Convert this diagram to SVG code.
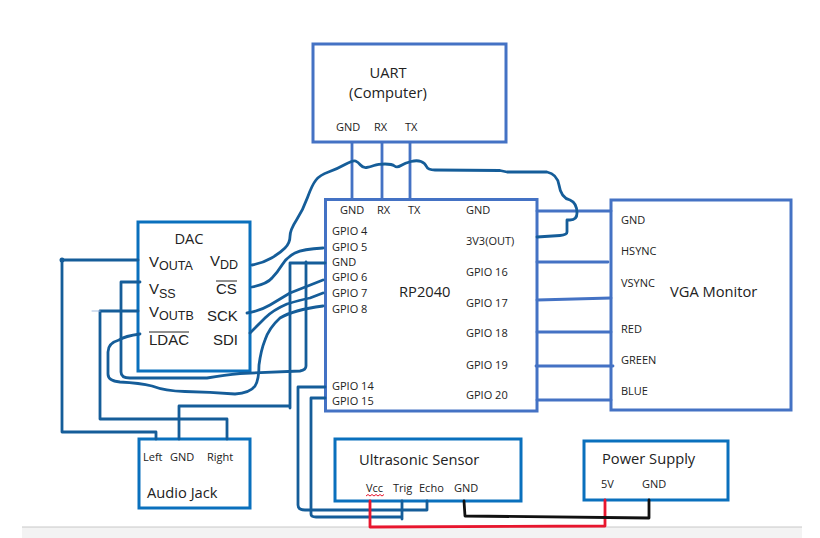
<svg xmlns="http://www.w3.org/2000/svg" width="820" height="538" viewBox="0 0 820 538">
<style>
text{font-family:"Open Sans","Noto Sans","Liberation Sans",sans-serif;font-size:11px;fill:#222}
.t{font-size:14.7px}
.d{font-family:"Liberation Sans",Arial,sans-serif;font-size:15px;fill:#222}
.d tspan{font-size:12.5px}
.b{fill:#fff;stroke-width:3}
.p{stroke:#4472c4}
.q{stroke:#0a70bd}
#connectors path{fill:none;stroke-linejoin:round;stroke-linecap:round}
.w{stroke:#155d99;stroke-width:2.8}
.u{stroke:#4472c4;stroke-width:2.8}
.r{stroke:#e8162e;stroke-width:2.8}
.k{stroke:#111;stroke-width:2.8}
</style>
<rect x="22" y="527" width="780" height="11" fill="#f3f3f3"/>
<line x1="22" y1="527" x2="802" y2="527" stroke="#c8c8c8" stroke-width="1"/>
<g id="uart"><rect class="b p" x="313" y="44" width="193" height="98"/>
<text class="t" x="388" y="78" text-anchor="middle">UART</text><text class="t" x="388" y="98" text-anchor="middle">(Computer)</text>
<text x="336" y="131">GND</text><text x="374" y="131">RX</text><text x="405" y="131">TX</text></g>
<g id="rp2040"><rect class="b p" x="325.500" y="199.500" width="211.500" height="211.500"/>
<text x="340" y="214">GND</text><text x="377" y="214">RX</text><text x="408" y="214">TX</text><text x="466" y="214">GND</text>
<text x="332" y="235">GPIO 4</text><text x="332" y="251">GPIO 5</text><text x="332" y="266">GND</text><text x="332" y="281">GPIO 6</text><text x="332" y="297">GPIO 7</text><text x="332" y="313">GPIO 8</text><text x="332" y="390">GPIO 14</text><text x="332" y="405">GPIO 15</text>
<text x="466" y="245">3V3(OUT)</text><text x="466" y="276">GPIO 16</text><text x="466" y="307">GPIO 17</text><text x="466" y="337">GPIO 18</text><text x="466" y="369">GPIO 19</text><text x="466" y="399">GPIO 20</text>
<text class="t" x="399" y="297">RP2040</text></g>
<g id="vga"><rect class="b p" x="611" y="200" width="180" height="210"/>
<text x="621" y="224">GND</text><text x="621" y="255">HSYNC</text><text x="621" y="287">VSYNC</text><text x="621" y="333">RED</text><text x="621" y="364">GREEN</text><text x="621" y="395">BLUE</text>
<text class="t" x="670" y="297">VGA Monitor</text></g>
<g id="dac"><rect class="b q" x="138" y="222" width="112" height="149"/>
<text class="t" x="189" y="244" text-anchor="middle">DAC</text>
<text class="d" x="149" y="267">V<tspan dy="3">OUTA</tspan></text>
<text class="d" x="210" y="266">V<tspan dy="3">DD</tspan></text>
<text class="d" x="149" y="294">V<tspan dy="4">SS</tspan></text>
<text class="d" x="216" y="294">CS</text><line x1="216" y1="281" x2="237" y2="281" stroke="#222" stroke-width="1"/>
<text class="d" x="149" y="317">V<tspan dy="3">OUTB</tspan></text>
<text class="d" x="207" y="321">SCK</text>
<text class="d" x="149" y="345">LDAC</text><line x1="149" y1="332" x2="189" y2="332" stroke="#222" stroke-width="1"/>
<text class="d" x="213" y="345">SDI</text></g>
<g id="audio-jack"><rect class="b q" x="139" y="439" width="111" height="69"/>
<text x="143" y="461">Left</text><text x="170" y="461">GND</text><text x="207" y="461">Right</text>
<text class="t" x="147" y="498">Audio Jack</text></g>
<g id="ultrasonic"><rect class="b q" x="335" y="439" width="186" height="62"/>
<text class="t" x="359" y="465">Ultrasonic Sensor</text>
<text x="366" y="492">Vcc</text><text x="393" y="492">Trig</text><text x="419" y="492">Echo</text><text x="454" y="492">GND</text>
<path d="M366 496l2-1.500 2 1.500 2-1.500 2 1.500 2-1.500 2 1.500 2-1.500 2 1.500 2-1.500" fill="none" stroke="#e8162e" stroke-width="1"/></g>
<g id="power-supply"><rect class="b q" x="584" y="441" width="144" height="59"/>
<text class="t" x="602" y="464">Power Supply</text><text x="601" y="488">5V</text><text x="642" y="488">GND</text></g>
<g id="connectors">
<path class="u" d="M352 143V199M382 143V199M410 143V199M537 211H611M537 262H608M537 300L611 298M537 332H611M536 366H613M537 400H611"/>
<path class="w" d="M138 260H62V432H156V439"/>
<circle cx="62" cy="260" r="2.500" fill="#155d99"/>
<path class="w" d="M100 311H138M100 311V419H227V439"/>
<path d="M92 311H100" stroke="#a9bfe0" stroke-width="1"/>
<path class="w" d="M140 282H121V372Q121 378 130 378H207Q225 375 240 373.500L300 371Q306 370 306 366V262"/>
<path class="w" d="M325 263H290V408M289 406H179V439"/>
<path class="w" d="M140 334Q125 336 119 340Q108 343 108 352V374Q108 381 120 382Q140 383 152 386Q165 391 185 391.500Q210 392 235 394Q250 393 255 386Q259 380 259 365Q261 350 265 340Q269 328 280 318Q293 310 323 306"/>
<path class="w" d="M250 333Q258 325 265 318Q273 310 287 304Q300 300 310 298L323 293"/>
<path class="w" d="M247 313Q260 311 270 305Q280 299 290 293L323 280"/>
<path class="w" d="M252 287Q267 284 272 278Q277 273 282 265Q287 257 295 253Q303 249 323 248"/>
<path class="w" d="M252 265Q263 263 271.500 258Q280 253 285 248Q290 243 290 236.500Q290 230 296.500 220Q303 210 307.500 197.500Q312 185 316 180Q320 175 328.500 172Q337 169 345 164.500Q353 160 355.500 161Q358 162 360.500 165Q363 168 366.500 167.500Q370 167 374 165.500Q378 164 385 164Q392 164 394.500 166Q397 168 401 165.500Q405 163 411 161.500Q417 160 421 161.500Q425 163 426.500 166.500Q428 170 435 170L500 170.500L507 172H547Q557 174 559 185Q561 198 570 200Q577 203 577 213Q577 220 570 220H567V232Q567 235 560 235.500L537 237"/>
<path class="w" d="M325 387H298V505Q298 510 305 510H427V501"/>
<path class="w" d="M325 398H311V514Q311 517 316 517H402M402 501V519"/>
<path class="r" d="M370 501V527L605 526V500"/>
<path class="k" d="M464 501L465 516L649 518V500"/>
</g>
</svg>
